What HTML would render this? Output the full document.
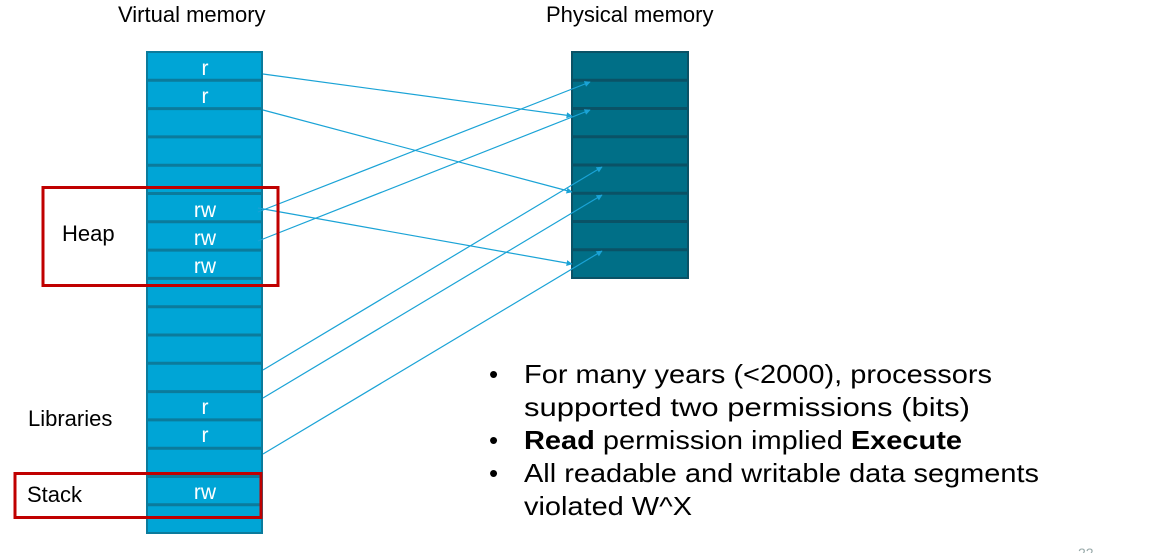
<!DOCTYPE html>
<html><head><meta charset="utf-8"><style>
html,body{margin:0;padding:0;background:#fff;width:1166px;height:553px;overflow:hidden}
svg{display:block}
text{font-family:"Liberation Sans",Arial,sans-serif}
</style></head><body>
<svg width="1166" height="553" viewBox="0 0 1166 553" xmlns="http://www.w3.org/2000/svg">
<defs>
<marker id="a" viewBox="0 0 10 10" refX="9" refY="5" markerWidth="7" markerHeight="6" orient="auto" markerUnits="userSpaceOnUse"><path d="M0,0 L10,5 L0,10 z" fill="#1aa3d6"/></marker>
</defs>
<text x="118" y="22" font-size="22" fill="#000">Virtual memory</text>
<text x="546" y="22" font-size="22" fill="#000">Physical memory</text>
<!-- virtual column -->
<rect x="147" y="52" width="115" height="481" fill="#00a5d6" stroke="#0b7b9c" stroke-width="2"/>
<g stroke="#0b7b9c" stroke-width="3">
<line x1="147" x2="262" y1="80.3" y2="80.3"/><line x1="147" x2="262" y1="108.6" y2="108.6"/>
<line x1="147" x2="262" y1="136.9" y2="136.9"/><line x1="147" x2="262" y1="165.2" y2="165.2"/>
<line x1="147" x2="262" y1="193.5" y2="193.5"/><line x1="147" x2="262" y1="221.8" y2="221.8"/>
<line x1="147" x2="262" y1="250.1" y2="250.1"/><line x1="147" x2="262" y1="278.4" y2="278.4"/>
<line x1="147" x2="262" y1="306.7" y2="306.7"/><line x1="147" x2="262" y1="335" y2="335"/>
<line x1="147" x2="262" y1="363.3" y2="363.3"/><line x1="147" x2="262" y1="391.6" y2="391.6"/>
<line x1="147" x2="262" y1="419.9" y2="419.9"/><line x1="147" x2="262" y1="448.2" y2="448.2"/>
<line x1="147" x2="262" y1="476.5" y2="476.5"/><line x1="147" x2="262" y1="504.8" y2="504.8"/>
</g>
<g fill="#fff" font-size="21" text-anchor="middle">
<text x="205" y="75">r</text><text x="205" y="103">r</text>
<text x="205" y="217">rw</text><text x="205" y="245">rw</text><text x="205" y="273">rw</text>
<text x="205" y="414">r</text><text x="205" y="442">r</text>
<text x="205" y="499">rw</text>
</g>
<!-- physical column -->
<rect x="572" y="52" width="116" height="226" fill="#006f87" stroke="#0a5266" stroke-width="2"/>
<g stroke="#0a5266" stroke-width="3">
<line x1="572" x2="688" y1="80.3" y2="80.3"/><line x1="572" x2="688" y1="108.5" y2="108.5"/>
<line x1="572" x2="688" y1="136.8" y2="136.8"/><line x1="572" x2="688" y1="165" y2="165"/>
<line x1="572" x2="688" y1="193.3" y2="193.3"/><line x1="572" x2="688" y1="221.5" y2="221.5"/>
<line x1="572" x2="688" y1="249.8" y2="249.8"/>
</g>
<!-- connectors -->
<g stroke="#1aa3d6" stroke-width="1.2" fill="none" marker-end="url(#a)">
<line x1="263" y1="74" x2="572" y2="116"/>
<line x1="263" y1="110" x2="572" y2="192"/>
<line x1="258" y1="208" x2="572" y2="264"/>
<line x1="258" y1="212" x2="590" y2="82"/>
<line x1="258" y1="241" x2="590" y2="110"/>
<line x1="263" y1="370" x2="602" y2="167"/>
<line x1="263" y1="398" x2="602" y2="195"/>
<line x1="263" y1="454" x2="602" y2="251"/>
</g>
<!-- red boxes -->
<rect x="43" y="187.5" width="235" height="98" fill="none" stroke="#c00000" stroke-width="3"/>
<rect x="15" y="473.5" width="246" height="44" fill="none" stroke="#c00000" stroke-width="3"/>
<g font-size="22" fill="#000">
<text x="62" y="241">Heap</text>
<text x="28" y="426">Libraries</text>
<text x="27" y="502">Stack</text>
</g>
<!-- bullets -->
<g font-size="26" fill="#000">
<text x="489" y="383">•</text><text x="489" y="449">•</text><text x="489" y="482">•</text>
<text x="524" y="383" textLength="468" lengthAdjust="spacingAndGlyphs">For many years (&lt;2000), processors</text>
<text x="524" y="416" textLength="446" lengthAdjust="spacingAndGlyphs">supported two permissions (bits)</text>
<text x="524" y="449" textLength="438" lengthAdjust="spacingAndGlyphs"><tspan font-weight="bold">Read</tspan> permission implied <tspan font-weight="bold">Execute</tspan></text>
<text x="524" y="482" textLength="515" lengthAdjust="spacingAndGlyphs">All readable and writable data segments</text>
<text x="524" y="515" textLength="168" lengthAdjust="spacingAndGlyphs">violated W^X</text>
</g>
<text x="1078" y="558" font-size="14" fill="#9aa">22</text>
</svg>
</body></html>
